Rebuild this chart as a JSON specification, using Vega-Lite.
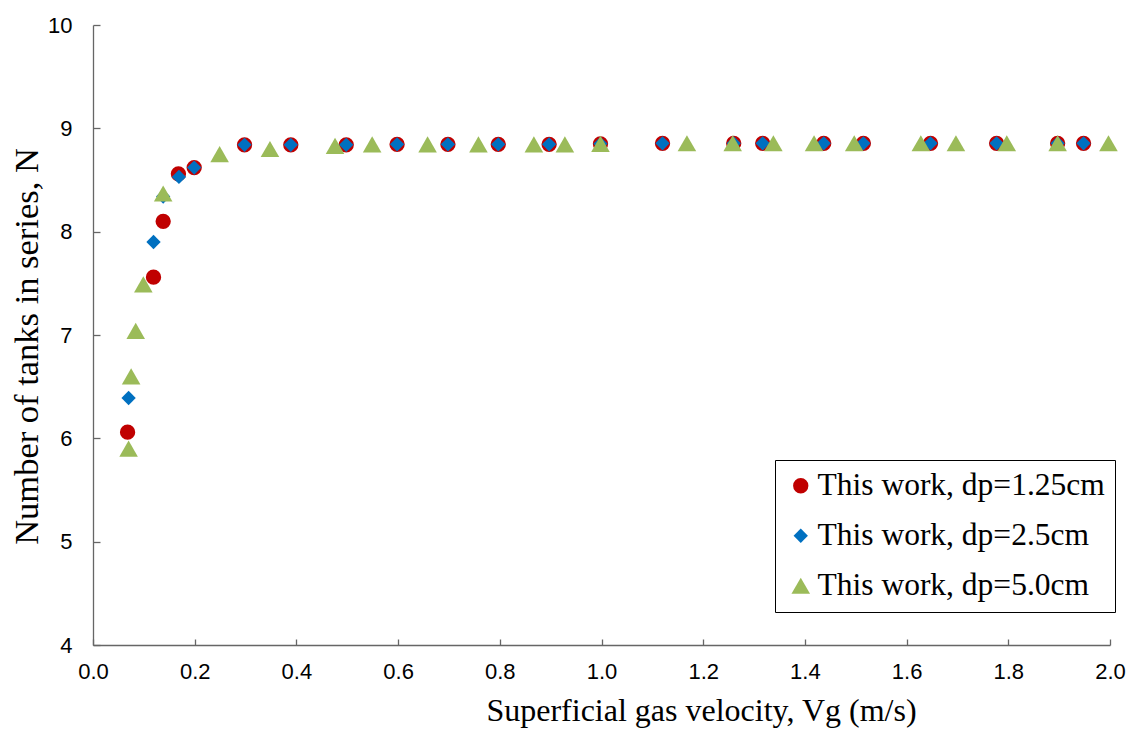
{
  "$schema": "https://vega.github.io/schema/vega-lite/v6.json",
  "width": 1017,
  "height": 620,
  "autosize": "none",
  "padding": {"left": 93, "top": 25, "right": 18, "bottom": 85},
  "background": "white",
  "config": {"view": {"stroke": null}},
  "data": {
    "values": [
      {"series": "This work, dp=1.25cm", "vg": 0.068, "n": 6.06},
      {"series": "This work, dp=1.25cm", "vg": 0.119, "n": 7.56},
      {"series": "This work, dp=1.25cm", "vg": 0.138, "n": 8.10},
      {"series": "This work, dp=1.25cm", "vg": 0.168, "n": 8.56},
      {"series": "This work, dp=1.25cm", "vg": 0.199, "n": 8.62},
      {"series": "This work, dp=1.25cm", "vg": 0.298, "n": 8.84},
      {"series": "This work, dp=1.25cm", "vg": 0.389, "n": 8.84},
      {"series": "This work, dp=1.25cm", "vg": 0.498, "n": 8.84},
      {"series": "This work, dp=1.25cm", "vg": 0.598, "n": 8.845},
      {"series": "This work, dp=1.25cm", "vg": 0.698, "n": 8.845},
      {"series": "This work, dp=1.25cm", "vg": 0.797, "n": 8.845},
      {"series": "This work, dp=1.25cm", "vg": 0.897, "n": 8.845},
      {"series": "This work, dp=1.25cm", "vg": 0.998, "n": 8.85},
      {"series": "This work, dp=1.25cm", "vg": 1.12, "n": 8.855},
      {"series": "This work, dp=1.25cm", "vg": 1.26, "n": 8.855},
      {"series": "This work, dp=1.25cm", "vg": 1.317, "n": 8.855},
      {"series": "This work, dp=1.25cm", "vg": 1.437, "n": 8.855},
      {"series": "This work, dp=1.25cm", "vg": 1.515, "n": 8.855},
      {"series": "This work, dp=1.25cm", "vg": 1.647, "n": 8.855},
      {"series": "This work, dp=1.25cm", "vg": 1.777, "n": 8.855},
      {"series": "This work, dp=1.25cm", "vg": 1.897, "n": 8.855},
      {"series": "This work, dp=1.25cm", "vg": 1.948, "n": 8.855},
      {"series": "This work, dp=2.5cm", "vg": 0.07, "n": 6.39},
      {"series": "This work, dp=2.5cm", "vg": 0.119, "n": 7.90},
      {"series": "This work, dp=2.5cm", "vg": 0.138, "n": 8.34},
      {"series": "This work, dp=2.5cm", "vg": 0.169, "n": 8.53},
      {"series": "This work, dp=2.5cm", "vg": 0.199, "n": 8.62},
      {"series": "This work, dp=2.5cm", "vg": 0.298, "n": 8.84},
      {"series": "This work, dp=2.5cm", "vg": 0.389, "n": 8.84},
      {"series": "This work, dp=2.5cm", "vg": 0.498, "n": 8.84},
      {"series": "This work, dp=2.5cm", "vg": 0.598, "n": 8.845},
      {"series": "This work, dp=2.5cm", "vg": 0.698, "n": 8.845},
      {"series": "This work, dp=2.5cm", "vg": 0.797, "n": 8.845},
      {"series": "This work, dp=2.5cm", "vg": 0.897, "n": 8.845},
      {"series": "This work, dp=2.5cm", "vg": 0.998, "n": 8.85},
      {"series": "This work, dp=2.5cm", "vg": 1.12, "n": 8.855},
      {"series": "This work, dp=2.5cm", "vg": 1.26, "n": 8.855},
      {"series": "This work, dp=2.5cm", "vg": 1.317, "n": 8.855},
      {"series": "This work, dp=2.5cm", "vg": 1.437, "n": 8.855},
      {"series": "This work, dp=2.5cm", "vg": 1.515, "n": 8.855},
      {"series": "This work, dp=2.5cm", "vg": 1.647, "n": 8.855},
      {"series": "This work, dp=2.5cm", "vg": 1.777, "n": 8.855},
      {"series": "This work, dp=2.5cm", "vg": 1.897, "n": 8.855},
      {"series": "This work, dp=2.5cm", "vg": 1.948, "n": 8.855},
      {"series": "This work, dp=5.0cm", "vg": 0.07, "n": 5.90},
      {"series": "This work, dp=5.0cm", "vg": 0.075, "n": 6.60},
      {"series": "This work, dp=5.0cm", "vg": 0.084, "n": 7.04},
      {"series": "This work, dp=5.0cm", "vg": 0.099, "n": 7.49},
      {"series": "This work, dp=5.0cm", "vg": 0.138, "n": 8.37},
      {"series": "This work, dp=5.0cm", "vg": 0.249, "n": 8.75},
      {"series": "This work, dp=5.0cm", "vg": 0.348, "n": 8.80},
      {"series": "This work, dp=5.0cm", "vg": 0.476, "n": 8.83},
      {"series": "This work, dp=5.0cm", "vg": 0.549, "n": 8.845},
      {"series": "This work, dp=5.0cm", "vg": 0.658, "n": 8.845},
      {"series": "This work, dp=5.0cm", "vg": 0.758, "n": 8.845},
      {"series": "This work, dp=5.0cm", "vg": 0.867, "n": 8.845},
      {"series": "This work, dp=5.0cm", "vg": 0.928, "n": 8.845},
      {"series": "This work, dp=5.0cm", "vg": 0.998, "n": 8.85},
      {"series": "This work, dp=5.0cm", "vg": 1.168, "n": 8.855},
      {"series": "This work, dp=5.0cm", "vg": 1.258, "n": 8.855},
      {"series": "This work, dp=5.0cm", "vg": 1.338, "n": 8.855},
      {"series": "This work, dp=5.0cm", "vg": 1.418, "n": 8.855},
      {"series": "This work, dp=5.0cm", "vg": 1.497, "n": 8.855},
      {"series": "This work, dp=5.0cm", "vg": 1.628, "n": 8.855},
      {"series": "This work, dp=5.0cm", "vg": 1.697, "n": 8.855},
      {"series": "This work, dp=5.0cm", "vg": 1.797, "n": 8.855},
      {"series": "This work, dp=5.0cm", "vg": 1.897, "n": 8.855},
      {"series": "This work, dp=5.0cm", "vg": 1.997, "n": 8.855}
    ]
  },
  "mark": {"type": "point", "filled": true, "opacity": 1},
  "encoding": {
    "x": {
      "field": "vg", "type": "quantitative",
      "scale": {"domain": [0, 2], "nice": false, "zero": false},
      "axis": {
        "title": "Superficial gas velocity, Vg (m/s)",
        "values": [0, 0.2, 0.4, 0.6, 0.8, 1.0, 1.2, 1.4, 1.6, 1.8, 2.0],
        "format": ".1f",
        "grid": false,
        "domainColor": "#666666", "domainWidth": 1.3,
        "tickColor": "#666666", "tickWidth": 1.3, "tickSize": -6,
        "labelFont": "Liberation Sans", "labelFontSize": 22, "labelColor": "#000000",
        "labelPadding": 22, "labelFlush": false,
        "titleFont": "Liberation Serif", "titleFontSize": 32, "titleFontWeight": "normal", "titleColor": "#000000",
        "titleX": 608, "titleY": 75, "titleBaseline": "alphabetic", "titleAlign": "center"
      }
    },
    "y": {
      "field": "n", "type": "quantitative",
      "scale": {"domain": [4, 10], "nice": false, "zero": false},
      "axis": {
        "title": "Number of tanks in series, N",
        "values": [4, 5, 6, 7, 8, 9, 10],
        "grid": false,
        "domainColor": "#666666", "domainWidth": 1.3,
        "tickColor": "#666666", "tickWidth": 1.3, "tickSize": -7,
        "labelFont": "Liberation Sans", "labelFontSize": 22, "labelColor": "#000000",
        "labelPadding": 28, "labelFlush": false,
        "titleFont": "Liberation Serif", "titleFontSize": 34.5, "titleFontWeight": "normal", "titleColor": "#000000",
        "titleX": -56, "titleY": 321, "titleBaseline": "alphabetic", "titleAlign": "center", "titleAngle": -90
      }
    },
    "color": {
      "field": "series", "type": "nominal",
      "scale": {
        "domain": ["This work, dp=1.25cm", "This work, dp=2.5cm", "This work, dp=5.0cm"],
        "range": ["#C00000", "#0070C0", "#9BBB59"]
      },
      "legend": {
        "title": null,
        "orient": "none",
        "legendX": 682,
        "legendY": 435,
        "strokeColor": "#000000",
        "fillColor": "#ffffff",
        "padding": 10,
        "labelFont": "Liberation Serif",
        "labelFontSize": 31.5,
        "labelColor": "#000000",
        "labelLimit": 400,
        "labelOffset": 1,
        "symbolSize": 240,
        "symbolOffset": 0,
        "rowPadding": 17,
        "encode": {
          "legend": {"update": {"strokeWidth": {"value": 1.5}}},
          "symbols": {"update": {"size": {"signal": "datum.value === 'This work, dp=2.5cm' ? 175 : datum.value === 'This work, dp=5.0cm' ? 280 : 225"}}}
        }
      }
    },
    "shape": {
      "field": "series", "type": "nominal",
      "scale": {
        "domain": ["This work, dp=1.25cm", "This work, dp=2.5cm", "This work, dp=5.0cm"],
        "range": ["circle", "diamond", "triangle-up"]
      },
      "legend": null
    },
    "size": {
      "field": "series", "type": "nominal",
      "scale": {
        "type": "ordinal",
        "domain": ["This work, dp=1.25cm", "This work, dp=2.5cm", "This work, dp=5.0cm"],
        "range": [235, 205, 345]
      },
      "legend": null
    }
  }
}
